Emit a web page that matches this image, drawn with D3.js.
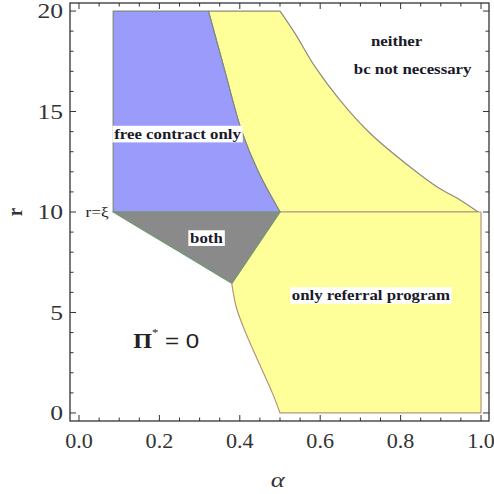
<!DOCTYPE html>
<html><head><meta charset="utf-8">
<script src="https://cdn.jsdelivr.net/npm/d3@7"></script>
<style>body{margin:0;background:#fff}svg{display:block}
.serif{font-family:"Liberation Serif","Times New Roman",Times,"DejaVu Serif",serif}</style>
</head><body>
<script>
// ---- data (alpha, r) ----
const leftEdgeAlpha = 0.085;
const blueYellowBoundary = [[0.5,10],[0.446,12],[0.405,14],[0.363,17],[0.322,20]];
const neitherBoundary = [[0.5,20],[0.537,18.9],[0.587,17.23],[0.649,15.57],[0.724,13.92],[0.823,12.25],[0.89,11.26],[0.948,10.6],[0.993,10]];
const referralLeftBoundary = [[0.38,6.45],[0.392,5.21],[0.417,3.88],[0.45,2.39],[0.483,0.9],[0.5,0]];
const bothLowerBoundary = [[0.38,6.45],[0.25,8.02],[0.085,10]];
const xMajor = [0,0.2,0.4,0.6,0.8,1.0];
const xMinor = [0.05,0.1,0.15,0.25,0.3,0.35,0.45,0.5,0.55,0.65,0.7,0.75,0.85,0.9,0.95];
const yMajor = [0,5,10,15,20];
const yMinor = [1,2,3,4,6,7,8,9,11,12,13,14,16,17,18,19];
const labels = [
  {t:"free contract only", a:0.245, r:13.9, box:true},
  {t:"both", a:0.317, r:8.7, box:true},
  {t:"neither", a:0.79, r:18.5, box:false},
  {t:"bc not necessary", a:0.83, r:17.1, box:false},
  {t:"only referral program", a:0.726, r:5.87, box:true}
];

const W=494,H=494;
const x=d3.scaleLinear().domain([-0.0224,1.0199]).range([70,489]);
const y=d3.scaleLinear().domain([-0.4,20.4]).range([421,3]);
const svg=d3.select("body").append("svg").attr("width",W).attr("height",H);
const straight=d3.line().x(d=>x(d[0])).y(d=>y(d[1]));
const smooth=d3.line().x(d=>x(d[0])).y(d=>y(d[1])).curve(d3.curveCatmullRom.alpha(0.5));
const shape=(segs)=>segs.map((s,i)=>{const p=(s.c?smooth:straight)(s.p);return i?p.replace(/^M/,"L"):p;}).join("")+"Z";
const rev=a=>a.slice().reverse();
const poly=(d,fill,stroke)=>svg.append("path").attr("d",d).attr("fill",fill).attr("stroke",stroke).attr("stroke-width",1.2).attr("stroke-linejoin","round");

poly(shape([{p:neitherBoundary,c:true},{p:blueYellowBoundary,c:true}]),"#ffff9a","#8f8a7a");
poly(shape([{p:[[0.5,10],[1,10],[1,0]]},{p:rev(referralLeftBoundary),c:true}]),"#ffff9a","#b89480");
poly(shape([{p:[[leftEdgeAlpha,20],[leftEdgeAlpha,10]]},{p:blueYellowBoundary,c:true}]),"#9b9bfb","#7f8a80");
poly(shape([{p:[[0.085,10],[0.5,10]]},{p:bothLowerBoundary,c:true}]),"#8a8a8a","#6f9a70");

// stretched text helper (reference is horizontally stretched)
const txt=(px,py,sx,anchor,baseline)=>{
  const g=svg.append("g").attr("transform",`translate(${px},${py}) scale(${sx},1)`);
  const t=g.append("text").attr("class","serif").attr("x",0).attr("y",0).attr("text-anchor",anchor).attr("dominant-baseline",baseline);
  return [g,t];
};

labels.forEach(l=>{
  const [g,t]=txt(x(l.a),y(l.r),1.16,"middle","central");
  t.attr("font-weight","bold").attr("font-size",14.5).attr("fill","#1a1a2a").text(l.t);
  if(l.box){
    const b=t.node().getBBox();
    g.insert("rect","text").attr("x",b.x-1.5).attr("y",b.y).attr("width",b.width+3).attr("height",b.height).attr("fill","#fff");
  }
});
txt(x(0.045),y(10),1.15,"middle","central")[1].attr("font-size",15).attr("fill","#222").text("r=ξ");
const pi=txt(x(0.217),y(3.6),1.15,"middle","central")[1].attr("font-size",21).attr("fill","#222");
pi.append("tspan").attr("font-weight","bold").text("Π");
pi.append("tspan").attr("font-size",11).attr("dy",-8).text("*");
pi.append("tspan").attr("dy",8).attr("font-family","Liberation Sans, Arial, sans-serif").text(" = 0");

// frame
const [x0,x1]=x.range(), [y0,y1]=y.range();
svg.append("rect").attr("x",x0).attr("y",y1).attr("width",x1-x0).attr("height",y0-y1).attr("fill","none").attr("stroke","#333").attr("stroke-width",1.3);
const tk=(vals,len,axis)=>{
  vals.forEach(v=>{
    if(axis==="x"){
      svg.append("line").attr("x1",x(v)).attr("x2",x(v)).attr("y1",y0).attr("y2",y0-len).attr("stroke","#333");
      svg.append("line").attr("x1",x(v)).attr("x2",x(v)).attr("y1",y1).attr("y2",y1+len).attr("stroke","#333");
    } else {
      svg.append("line").attr("y1",y(v)).attr("y2",y(v)).attr("x1",x0).attr("x2",x0+len).attr("stroke","#333");
      svg.append("line").attr("y1",y(v)).attr("y2",y(v)).attr("x1",x1).attr("x2",x1-len).attr("stroke","#333");
    }
  });
};
tk(xMajor,6,"x");tk(xMinor,3.5,"x");tk(yMajor,6,"y");tk(yMinor,3.5,"y");
xMajor.forEach(d=>txt(x(d),448,1.08,"middle","auto")[1].attr("font-size",20.5).attr("fill","#333").text(d3.format(".1f")(d)));
yMajor.forEach(d=>txt(63,y(d),1.25,"end","central")[1].attr("font-size",20.5).attr("fill","#333").text(d));
txt(x(0.494),487,1.2,"middle","auto")[1].attr("font-style","italic").attr("font-size",22).attr("fill","#333").text("α");
svg.append("text").attr("class","serif").attr("transform",`translate(22,${y(10)}) rotate(-90) scale(1,1.15)`).attr("text-anchor","middle").attr("font-weight","bold").attr("font-size",19).attr("fill","#333").text("r");
</script>
</body></html>
